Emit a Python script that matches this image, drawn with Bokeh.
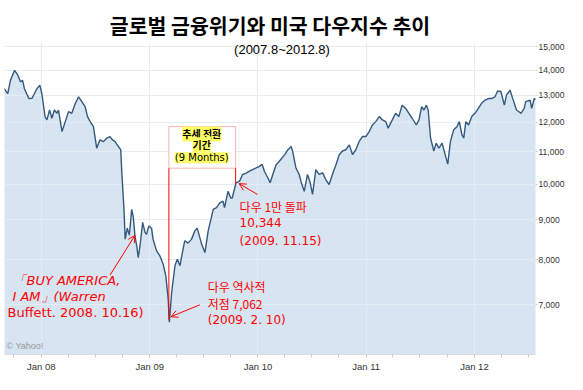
import numpy as np
import pandas as pd
from bokeh.plotting import figure
from bokeh.models import (FixedTicker, NumeralTickFormatter, DatetimeTickFormatter,
                          Label, Arrow, OpenHead, BoxAnnotation, Range1d, ColumnDataSource)
from bokeh.embed import file_html
from bokeh.resources import INLINE

# ---------------- data (Dow Jones Industrial Average) ----------------
dates_2007 = ["2007-08-28", "2007-09-10", "2007-09-19", "2007-10-03", "2007-10-14", "2007-10-23",
              "2007-10-30", "2007-11-05", "2007-11-20", "2007-12-01", "2007-12-12", "2007-12-18",
              "2007-12-27"]
dow_2007 = [13270, 13070, 13590, 14000, 13800, 13530, 13590, 13270, 12880, 12890, 13140, 13270, 13400]

dates_2008 = ["2008-01-03", "2008-01-14", "2008-01-20", "2008-01-29", "2008-02-06", "2008-02-14",
              "2008-02-23", "2008-02-28", "2008-03-11", "2008-03-22", "2008-04-02", "2008-04-13",
              "2008-04-25", "2008-05-06", "2008-05-17", "2008-05-28", "2008-06-05", "2008-06-14",
              "2008-06-25", "2008-07-06", "2008-07-17", "2008-07-29", "2008-08-09", "2008-08-20",
              "2008-08-28", "2008-09-06", "2008-09-17", "2008-09-25", "2008-09-29", "2008-10-06",
              "2008-10-10", "2008-10-17", "2008-10-24", "2008-11-01", "2008-11-06", "2008-11-12",
              "2008-11-18", "2008-11-23", "2008-11-29", "2008-12-08", "2008-12-16", "2008-12-21",
              "2008-12-29"]
dow_2008 = [13070, 12200, 12090, 12450, 12150, 12450, 12330, 12450, 11680, 12030, 12390, 12330,
            12700, 12940, 12760, 12570, 12210, 12030, 11850, 11120, 11400, 11340, 11460, 11510,
            11400, 11340, 11180, 11070, 10300, 9280, 8500, 8780, 8600, 9280, 9100, 8580,
            8330, 8050, 8330, 8930, 8670, 8620, 8840]

dates_2009 = ["2009-01-07", "2009-01-12", "2009-01-24", "2009-02-04", "2009-02-15", "2009-02-24",
              "2009-03-04", "2009-03-08", "2009-03-16", "2009-03-27", "2009-04-04", "2009-04-13",
              "2009-04-21", "2009-04-29", "2009-05-10", "2009-05-22", "2009-06-02", "2009-06-10",
              "2009-06-25", "2009-07-06", "2009-07-17", "2009-08-03", "2009-08-14", "2009-08-25",
              "2009-09-05", "2009-09-10", "2009-09-22", "2009-10-01", "2009-10-06", "2009-10-19",
              "2009-10-31", "2009-11-10", "2009-11-22", "2009-12-03", "2009-12-14", "2009-12-26"]
dow_2009 = [8780, 8500, 8210, 8090, 7900, 7630, 7130, 6650, 7270, 7860, 8010, 7860,
            8170, 8460, 8400, 8500, 8710, 8780, 8370, 8170, 8710, 9280, 9330, 9460,
            9510, 9330, 9790, 9600, 9600, 10040, 10090, 10290, 10330, 10390, 10440, 10490]

dates_2010 = ["2010-01-06", "2010-01-15", "2010-01-23", "2010-02-03", "2010-02-11", "2010-02-20",
              "2010-03-03", "2010-03-14", "2010-04-01", "2010-04-12", "2010-04-23", "2010-04-28",
              "2010-05-09", "2010-05-20", "2010-05-26", "2010-06-06", "2010-06-17", "2010-06-25",
              "2010-07-04", "2010-07-15", "2010-07-26", "2010-08-07", "2010-08-18", "2010-08-29",
              "2010-09-09", "2010-09-21", "2010-10-02", "2010-10-13", "2010-10-24", "2010-11-05",
              "2010-11-16", "2010-11-27", "2010-12-08", "2010-12-19", "2010-12-31"]
dow_2010 = [10540, 10600, 10380, 10190, 10040, 10290, 10590, 10700, 10910, 11070, 11180, 11010,
            10490, 10290, 10080, 9790, 10290, 10080, 9700, 10440, 10290, 10340, 10130, 9990,
            10290, 10590, 10910, 11030, 11070, 11230, 10910, 11070, 11340, 11510, 11510]

dates_2011 = ["2011-01-11", "2011-01-22", "2011-02-02", "2011-02-14", "2011-02-25", "2011-03-08",
              "2011-03-16", "2011-03-30", "2011-04-10", "2011-04-21", "2011-05-02", "2011-05-14",
              "2011-05-25", "2011-06-05", "2011-06-19", "2011-06-28", "2011-07-07", "2011-07-15",
              "2011-07-23", "2011-07-29", "2011-08-06", "2011-08-17", "2011-08-25", "2011-09-03",
              "2011-09-14", "2011-09-23", "2011-10-03", "2011-10-12", "2011-10-23", "2011-11-03",
              "2011-11-11", "2011-11-20", "2011-11-26", "2011-12-03", "2011-12-12", "2011-12-23"]
dow_2011 = [11680, 11910, 12030, 12210, 12090, 12030, 11800, 12090, 12330, 12210, 12630, 12510,
            12330, 12150, 11910, 12090, 12570, 12450, 12630, 12450, 11460, 11030, 11290, 11120,
            11290, 10960, 10610, 11340, 11740, 11850, 12030, 11570, 11460, 12030, 11910, 12210]

dates_2012 = ["2012-01-03", "2012-01-14", "2012-01-25", "2012-02-06", "2012-02-17", "2012-02-28",
              "2012-03-10", "2012-03-19", "2012-03-30", "2012-04-11", "2012-04-18", "2012-04-30",
              "2012-05-11", "2012-05-22", "2012-06-06", "2012-06-17", "2012-06-22", "2012-07-07",
              "2012-07-12", "2012-07-21", "2012-08-02", "2012-08-13", "2012-08-21"]
dow_2012 = [12330, 12510, 12700, 12820, 12880, 12880, 12940, 13160, 13160, 12630, 13010, 13200,
            12820, 12450, 12330, 12510, 12760, 12820, 12510, 12880, 12820, 13070, 13200]

y_ticks = [6000, 7000, 8000, 9000, 10000, 11000, 12000, 13000, 14000, 15000]
year_ticks = ["2008-01-01", "2009-01-01", "2010-01-01", "2011-01-01", "2012-01-01"]
quarter_ticks = [f"{y}-{m:02d}-01" for y in range(2007, 2013) for m in (1, 4, 7, 10)]

title_text = "글로벌 금융위기와 미국 다우지수 추이"
subtitle_text = "(2007.8~2012.8)"
box_lines = ["추세 전환", "기간", "(9 Months)"]
buffett_lines = ["「BUY AMERICA,", "I AM」(Warren", "Buffett. 2008. 10.16)"]
low_lines = ["다우 역사적", "저점 7,062", "(2009. 2. 10)"]
break_lines = ["다우 1만 돌파", "10,344", "(2009. 11.15)"]

# ---------------- helpers: picture pixel -> data coordinate (for annotations) ----------------
EPOCH = pd.Timestamp("1970-01-01")


def to_ms(d):
    return (pd.Timestamp(d) - EPOCH) / pd.Timedelta(milliseconds=1)


ANCHOR = pd.Timestamp("2008-01-01")
ANCHOR_PX = 40.9
PX_PER_DAY = 108.7 / 365.25


def xs(px):
    return to_ms(ANCHOR + pd.Timedelta(days=(px - ANCHOR_PX) / PX_PER_DAY))


def ys(py):
    return 7000 * np.exp((306 - py) / 340.5)


W, H = 567, 374
LEFT, RIGHT, TOP, BOTTOM = 4, 537, 42, 356

dates = pd.to_datetime(dates_2007 + dates_2008 + dates_2009 + dates_2010 + dates_2011 + dates_2012)
dow = dow_2007 + dow_2008 + dow_2009 + dow_2010 + dow_2011 + dow_2012
src = ColumnDataSource(dict(date=dates, dow=dow))

p = figure(width=W, height=H, x_axis_type="datetime", y_axis_type="log",
           y_axis_location="right",
           x_range=Range1d(xs(LEFT), xs(RIGHT)), y_range=Range1d(ys(BOTTOM), ys(TOP)),
           output_backend="svg", toolbar_location=None,
           min_border_left=LEFT, min_border_right=W - RIGHT,
           min_border_top=TOP, min_border_bottom=H - BOTTOM)
p.outline_line_color = None
p.background_fill_color = "white"
p.border_fill_color = "white"

p.title.text = title_text
p.title.text_font = "Noto Sans CJK KR"
p.title.text_font_size = "20.5px"
p.title.text_font_style = "bold"
p.title.text_color = "black"
p.title.align = "center"
p.title.offset = 290 - (LEFT + RIGHT) / 2
p.title.standoff = 6

p.varea(x="date", y1=5000, y2="dow", source=src, fill_color="#d6e5f1", level="image")
p.line(x="date", y="dow", source=src, line_color="#35597d", line_width=1.4)

# axes & grid
year_ms = [to_ms(d) for d in year_ticks]
quarter_ms = [to_ms(d) for d in quarter_ticks]
p.xaxis.ticker = FixedTicker(ticks=year_ms, minor_ticks=quarter_ms)
fmt = "%b %y"
p.xaxis.formatter = DatetimeTickFormatter(years=fmt, months=fmt, days=fmt, hours=fmt,
                                          minutes=fmt, seconds=fmt, milliseconds=fmt,
                                          microseconds=fmt, minsec=fmt, hourmin=fmt)
p.xaxis.major_label_text_font = "Liberation Sans"
p.xaxis.major_label_text_font_size = "9.5px"
p.xaxis.major_label_text_color = "#333333"
p.xaxis.axis_line_color = "#dddddd"
p.xaxis.major_tick_line_color = "#cccccc"
p.xaxis.minor_tick_line_color = "#cccccc"
p.xaxis.major_tick_in = 0
p.xaxis.major_tick_out = 3
p.xaxis.minor_tick_in = 0
p.xaxis.minor_tick_out = 3
p.xaxis.major_label_standoff = 3

p.yaxis.ticker = FixedTicker(ticks=y_ticks)
p.yaxis.formatter = NumeralTickFormatter(format="0,0")
p.yaxis.major_label_text_font = "Liberation Sans"
p.yaxis.major_label_text_font_size = "8.5px"
p.yaxis.major_label_text_color = "#333333"
p.yaxis.axis_line_color = None
p.yaxis.major_tick_line_color = "#cccccc"
p.yaxis.major_tick_in = 0
p.yaxis.major_tick_out = 2
p.yaxis.minor_tick_line_color = None
p.yaxis.major_label_standoff = 1

p.xgrid.ticker = FixedTicker(ticks=year_ms)
p.ygrid.ticker = FixedTicker(ticks=y_ticks)
p.grid.grid_line_color = "#e5ecf2"
p.grid.grid_line_width = 1


def add_text(txt, px, py, font, size, color="black", align="left", style="normal", bg=None):
    lab = Label(x=xs(px), y=ys(py), text=txt, text_font=font, text_font_size=f"{size}px",
                text_color=color, text_align=align, text_baseline="middle",
                text_font_style=style, background_fill_color=bg)
    p.add_layout(lab)


KR = "Noto Sans CJK KR"
LAT = "DejaVu Sans"
RED = "#ff0000"

add_text(subtitle_text, 282.5, 49, "Liberation Sans", 13, "black", "center")
add_text("© Yahoo!", 6, 347, "Liberation Sans", 9, "#999999")

# trend reversal box and its red legs
p.add_layout(BoxAnnotation(left=xs(169), right=xs(236), top=ys(126.5), bottom=ys(168.5),
                           fill_color="white", fill_alpha=1.0, line_color=RED, line_width=1))
for (px, py0, py1) in [(169, 168.5, 321), (236, 168.5, 184)]:
    p.add_layout(Arrow(x_start=xs(px), y_start=ys(py0), x_end=xs(px), y_end=ys(py1),
                       start=None, end=None, line_color=RED, line_width=1))

YEL = "#ffff66"
add_text(box_lines[0], 202, 134, KR, 10, "black", "center", "bold", YEL)
add_text(box_lines[1], 202, 145, KR, 10, "black", "center", "bold", YEL)
add_text(box_lines[2], 202, 158, LAT, 10, "black", "center", "normal", YEL)

# arrows
for (x0, y0, x1, y1) in [(110, 276, 135, 236), (200, 306, 171, 318), (258, 195, 239.5, 184)]:
    p.add_layout(Arrow(x_start=xs(x0), y_start=ys(y0), x_end=xs(x1), y_end=ys(y1),
                       end=OpenHead(size=7, line_color=RED, line_width=1),
                       line_color=RED, line_width=1))

# Buffett text
add_text(buffett_lines[0], 13, 282, LAT, 13, RED, "left", "italic")
add_text(buffett_lines[1], 12, 298, LAT, 13, RED, "left", "italic")
add_text(buffett_lines[2], 7, 313.5, LAT, 13, RED, "left", "normal")

# low text
add_text(low_lines[0], 208, 287.5, KR, 12, RED)
add_text(low_lines[1], 208, 304.5, KR, 12, RED)
add_text(low_lines[2], 208, 321.5, LAT, 12, RED)

# 10,000 break text
add_text(break_lines[0], 240, 207, KR, 12, RED)
add_text(break_lines[1], 240, 223, LAT, 12, RED)
add_text(break_lines[2], 240, 241.5, LAT, 12, RED)

open("out.html", "w").write(file_html(p, INLINE))
